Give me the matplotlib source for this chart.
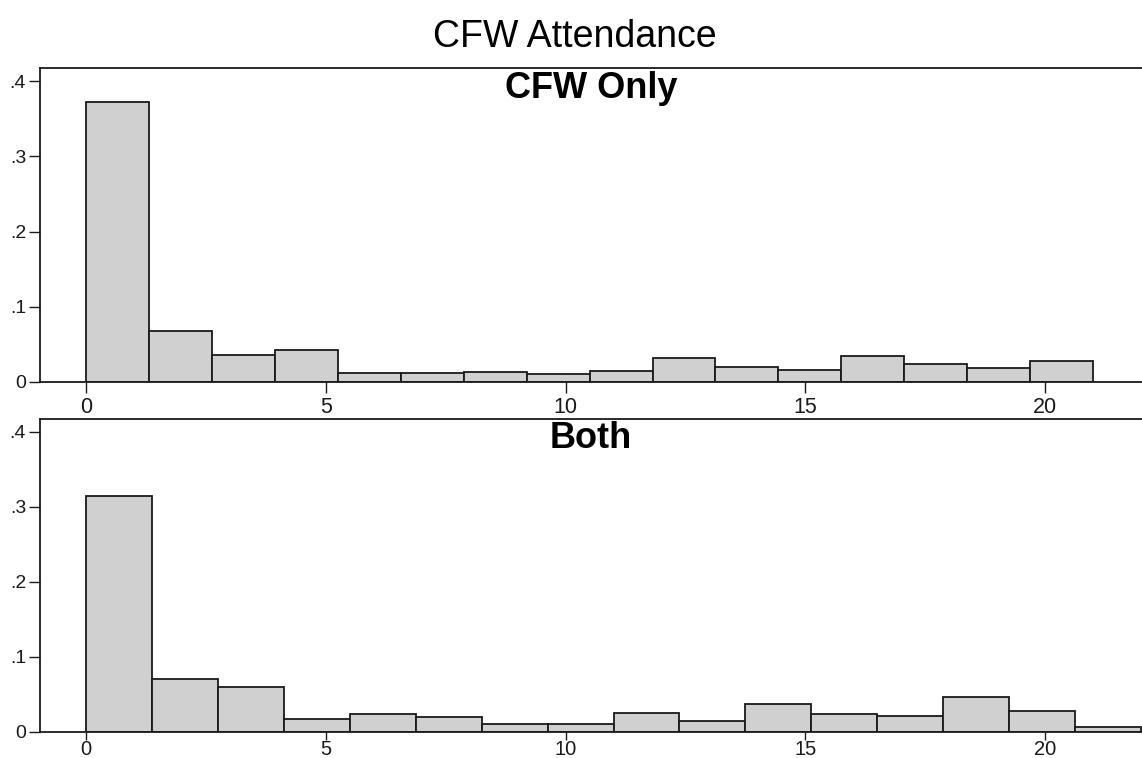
import numpy as np
import matplotlib
matplotlib.use("Agg")
import matplotlib.pyplot as plt
from matplotlib.ticker import FixedLocator, FixedFormatter

plt.rcParams['font.family'] = ['Liberation Sans', 'DejaVu Sans']

title = "CFW Attendance"
panel_titles = ["CFW Only", "Both"]
bin_ranges = [(0, 21), (0, 22)]
cfw_only = [0.3725, 0.068, 0.0355, 0.0428, 0.0125, 0.0125, 0.0139, 0.0107,
            0.0152, 0.032, 0.020, 0.0163, 0.0339, 0.0241, 0.0181, 0.0273]
both = [0.315, 0.0709, 0.0595, 0.0179, 0.0243, 0.0197, 0.0101, 0.0101,
        0.0252, 0.0151, 0.0372, 0.0239, 0.0211, 0.0469, 0.0280, 0.0065]
series = [cfw_only, both]
xticks = [0, 5, 10, 15, 20]
yticks = [0, 0.1, 0.2, 0.3, 0.4]
ytick_labels = ["0", ".1", ".2", ".3", ".4"]

W, H = 1142, 758
fig = plt.figure(figsize=(W / 100, H / 100), dpi=100)

boxes = [(40, 68.3, 1142, 382), (40, 419, 1142, 732)]
tick_len = [8, 6]
tick_pad = [3, 0]
xlabel_size = [15.5, 14.5]
for (l, t, r, b), vals, ptitle, (lo, hi), tl, tp, xs in zip(boxes, series, panel_titles,
                                                            bin_ranges, tick_len, tick_pad,
                                                            xlabel_size):
    ax = fig.add_axes([l / W, 1 - b / H, (r - l) / W, (b - t) / H])
    edges = np.linspace(lo, hi, len(vals) + 1)
    ax.bar(edges[:-1], vals, width=np.diff(edges), align='edge',
           color='#d0d0d0', edgecolor='#1a1a1a', linewidth=1.3, zorder=2)
    ax.set_xlim(-0.96, 22.02)
    ax.set_ylim(0, 0.417)
    ax.spines['right'].set_visible(False)
    for s in ['left', 'top', 'bottom']:
        ax.spines[s].set_linewidth(1.3)
        ax.spines[s].set_color('#1a1a1a')
    ax.xaxis.set_major_locator(FixedLocator(xticks))
    ax.set_xticklabels([str(v) for v in xticks])
    ax.yaxis.set_major_locator(FixedLocator(yticks))
    ax.yaxis.set_major_formatter(FixedFormatter(ytick_labels))
    ax.tick_params(axis='x', direction='out', length=tl, width=1.0, labelsize=xs, pad=tp, colors='#1a1a1a')
    ax.tick_params(axis='y', direction='out', length=8, width=1.0, labelsize=14, pad=2, colors='#1a1a1a')
    ax.text(0.5, 0.906, ptitle, transform=ax.transAxes, ha='center', va='baseline',
            fontsize=26, fontweight='bold')

fig.text(575 / W, 1 - 46.7 / H, title, ha='center', va='baseline', fontsize=27)

fig.savefig("out.png", dpi=100)
